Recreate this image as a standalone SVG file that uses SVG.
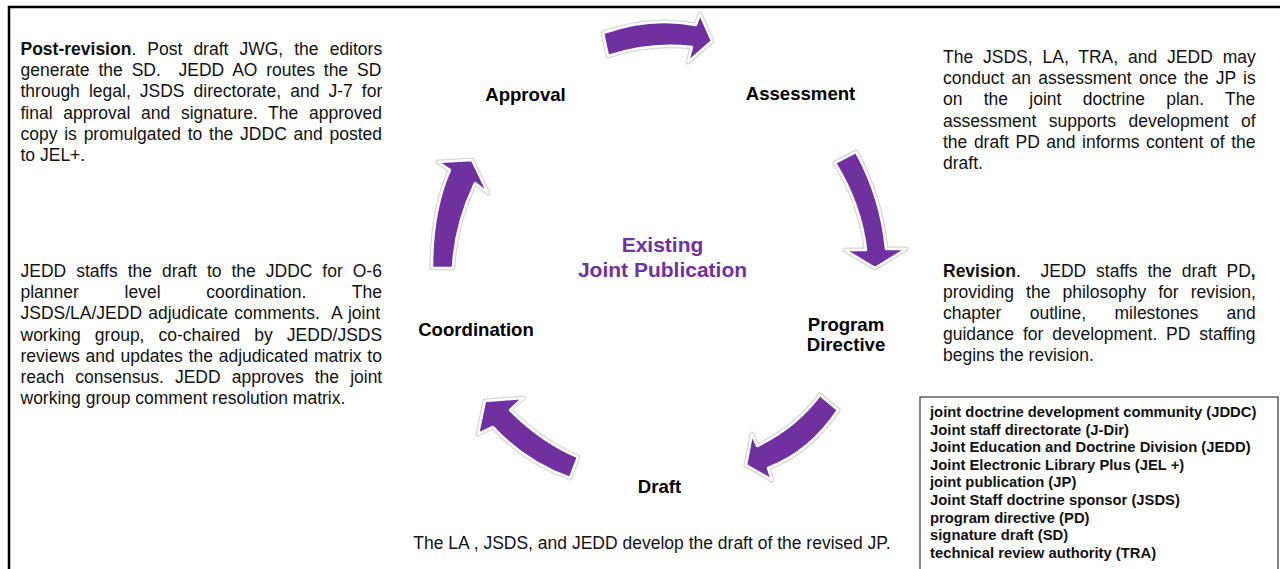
<svg xmlns="http://www.w3.org/2000/svg" xmlns:xlink="http://www.w3.org/1999/xlink" width="1280" height="569" viewBox="0 0 1280 569">
<style>
.body{font-family:"Liberation Sans",Arial,sans-serif;font-size:17.5px;fill:#111}
.pre{white-space:pre}
.b{font-weight:bold}
.lbl{font-family:"Liberation Sans",Arial,sans-serif;font-size:18.6px;font-weight:bold;fill:#000;text-anchor:middle}
.ctr{font-family:"Liberation Sans",Arial,sans-serif;font-size:21px;font-weight:bold;fill:#7030A0;text-anchor:middle}
.leg{font-family:"Liberation Sans",Arial,sans-serif;font-size:14.8px;font-weight:bold;fill:#111}
.halo{fill:none;stroke:#d6d6d6;stroke-width:5;stroke-linejoin:round}
.arr{fill:#7030A0;stroke:#fff;stroke-width:2.5;stroke-linejoin:round}
</style>
<defs>
<path id="a1" d="M603,33 Q650,16 696,25 L700,14 L712,41 L688,62 L692,47 Q650,42 608,56 Z"/>
<path id="a2" d="M835,163 L856,152 Q881,197 886,249 L906,249 L875,268 L845,250 L866,250 Q861,205 835,163 Z"/>
<path id="a3" d="M820,395 L838,410 Q810,452 768,468 L772,480 L746,465 L752,434 L757,446 Q795,428 820,395 Z"/>
<path id="a4" d="M485,401 L523,398 L510,410 Q542,442 578,457 L570,478 Q525,462 493,427 L478,434 Z"/>
<path id="a5" d="M432,268 Q432,210 450,170 L438,162 L472,160 L488,193 L475,183 Q455,225 453,268 Z"/>
</defs>
<rect width="1280" height="569" fill="#fff"/>
<rect x="9" y="7" width="1290" height="620" fill="none" stroke="#000" stroke-width="2.5"/>

<g id="connectors">
<use href="#a1" class="halo"/><use href="#a1" class="arr"/>
<use href="#a2" class="halo"/><use href="#a2" class="arr"/>
<use href="#a3" class="halo"/><use href="#a3" class="arr"/>
<use href="#a4" class="halo"/><use href="#a4" class="arr"/>
<use href="#a5" class="halo"/><use href="#a5" class="arr"/>
</g>

<g id="center">
<text class="ctr" x="662.5" y="251.5">Existing</text>
<text class="ctr" x="662.5" y="276.5">Joint Publication</text>
</g>

<g id="approval">
<text class="lbl" x="525.5" y="101">Approval</text>
<g class="body">
<text x="20.5" y="55" word-spacing="6.2"><tspan class="b">Post-revision</tspan>. Post draft JWG, the editors</text>
<text class="pre" x="20.5" y="76.2" word-spacing="4.0">generate the SD.  JEDD AO routes the SD</text>
<text x="20.5" y="97.4" word-spacing="4.2">through legal, JSDS directorate, and J-7 for</text>
<text x="20.5" y="118.6" word-spacing="5.8">final approval and signature. The approved</text>
<text x="20.5" y="139.8" word-spacing="1.9">copy is promulgated to the JDDC and posted</text>
<text x="20.5" y="161">to JEL+.</text>
</g>
</g>

<g id="assessment">
<text class="lbl" x="800.5" y="100">Assessment</text>
<g class="body">
<text x="943" y="63" word-spacing="5">The JSDS, LA, TRA, and JEDD may</text>
<text x="943" y="84.2" word-spacing="2.4">conduct an assessment once the JP is</text>
<text x="943" y="105.4" word-spacing="16.4">on the joint doctrine plan. The</text>
<text x="943" y="126.6" word-spacing="7.6">assessment supports development of</text>
<text x="943" y="147.8" word-spacing="1.7">the draft PD and informs content of the</text>
<text x="943" y="169">draft.</text>
</g>
</g>

<g id="program-directive">
<text class="lbl" x="846" y="330.5">Program</text>
<text class="lbl" x="846" y="350.5">Directive</text>
<g class="body">
<text class="pre" x="943" y="276.5" word-spacing="5"><tspan class="b">Revision</tspan>.  JEDD staffs the draft PD<tspan class="b">,</tspan></text>
<text x="943" y="297.7" word-spacing="7.2">providing the philosophy for revision,</text>
<text x="943" y="318.9" word-spacing="23.5">chapter outline, milestones and</text>
<text x="943" y="340.1" word-spacing="4.0">guidance for development. PD staffing</text>
<text x="943" y="361.3">begins the revision.</text>
</g>
</g>

<g id="draft">
<text class="lbl" x="659.5" y="492.5">Draft</text>
<text class="body" x="652" y="548.5" text-anchor="middle">The LA , JSDS, and JEDD develop the draft of the revised JP.</text>
</g>

<g id="coordination">
<text class="lbl" x="476" y="335.5">Coordination</text>
<g class="body">
<text x="20.5" y="277" word-spacing="5.1">JEDD staffs the draft to the JDDC for O-6</text>
<text x="20.5" y="298.2" word-spacing="40.8">planner level coordination. The</text>
<text class="pre" x="20.5" y="319.4" word-spacing="1.3">JSDS/LA/JEDD adjudicate comments.  A joint</text>
<text x="20.5" y="340.6" word-spacing="9.2">working group, co-chaired by JEDD/JSDS</text>
<text x="20.5" y="361.8" word-spacing="0.9">reviews and updates the adjudicated matrix to</text>
<text x="20.5" y="383" word-spacing="6.2">reach consensus. JEDD approves the joint</text>
<text x="20.5" y="404.2">working group comment resolution matrix.</text>
</g>
</g>

<g id="legend">
<rect x="920" y="397" width="358" height="200" fill="#fff" stroke="#444" stroke-width="1.3"/>
<g class="leg">
<text x="930" y="417">joint doctrine development community (JDDC)</text>
<text x="930" y="434.6">Joint staff directorate (J-Dir)</text>
<text x="930" y="452.2">Joint Education and Doctrine Division (JEDD)</text>
<text x="930" y="469.8">Joint Electronic Library Plus (JEL +)</text>
<text x="930" y="487.4">joint publication (JP)</text>
<text x="930" y="505">Joint Staff doctrine sponsor (JSDS)</text>
<text x="930" y="522.6">program directive (PD)</text>
<text x="930" y="540.2">signature draft (SD)</text>
<text x="930" y="557.8">technical review authority (TRA)</text>
</g>
</g>
</svg>
